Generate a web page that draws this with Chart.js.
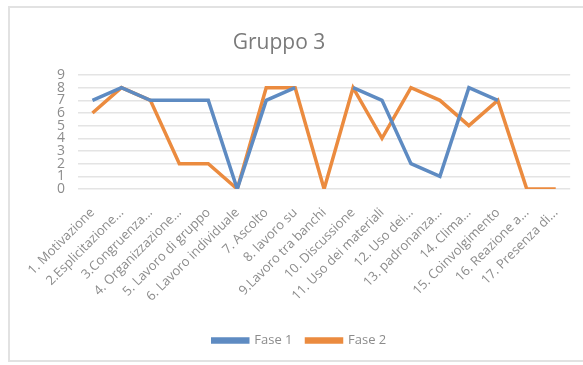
<!DOCTYPE html>
<html>
<head>
<meta charset="utf-8">
<script src="https://cdn.jsdelivr.net/npm/chart.js@4.4.1/dist/chart.umd.min.js"></script>
<style>
  html, body { margin: 0; padding: 0; background: #fff; overflow: hidden; }
  body { width: 583px; height: 365px; position: relative; }
  .frame {
    position: absolute; left: 8px; top: 6px; width: 575px; height: 356px;
    border: 2px solid #e2e2e2; border-right: none; box-sizing: border-box;
  }
  .wrap { position: absolute; left: 0; top: 0; width: 583px; height: 365px; }
</style>
</head>
<body>
<div class="frame"></div>
<div class="wrap"><canvas id="chart"></canvas></div>
<script>
// Categorie osservate
const categories = [
  "1. Motivazione",
  "2.Esplicitazione...",
  "3.Congruenza...",
  "4. Organizzazione...",
  "5. Lavoro di gruppo",
  "6. Lavoro individuale",
  "7. Ascolto",
  "8. lavoro su",
  "9.Lavoro tra banchi",
  "10. Discussione",
  "11. Uso dei materiali",
  "12. Uso dei...",
  "13. padronanza...",
  "14. Clima...",
  "15. Coinvolgimento",
  "16. Reazione a...",
  "17. Presenza di...",
];

// Punteggi per fase (null = nessun dato)
const fase1 = [7, 8, 7, 7, 7, 0, 7, 8, null, 8, 7, 2, 1, 8, 7, null, null];
const fase2 = [6, 8, 7, 2, 2, 0, 8, 8, 0, 8, 4, 8, 7, 5, 7, 0, 0];

const yTicks = [0, 1, 2, 3, 4, 5, 6, 7, 8, 9];

const FONT = "'Open Sans', 'Noto Sans', sans-serif";
const GREY = "#8c8c8c";

// titolo disegnato a mano per poterlo spostare un po' a sinistra
const titlePlugin = {
  id: "titolo",
  afterDraw(chart) {
    const c = chart.ctx;
    c.save();
    c.font = "21px " + FONT;
    c.fillStyle = "#7a7a7a";
    c.textAlign = "center";
    c.textBaseline = "middle";
    c.fillText("Gruppo 3", 279, 43);
    c.restore();
  },
};

// sposta la legenda leggermente a destra
const legendShift = {
  id: "legendShift",
  afterLayout(chart) {
    chart.legend.left += 12;
    chart.legend.right += 12;
  },
};

const ctx = document.getElementById("chart").getContext("2d");
const chart = new Chart(ctx, {
  type: "line",
  data: {
    labels: categories,
    datasets: [
      {
        label: "Fase 1",
        data: fase1,
        borderColor: "#5e8bc2",
        backgroundColor: "#5e8bc2",
        borderWidth: 3.5,
        pointRadius: 0,
        tension: 0,
        spanGaps: false,
      },
      {
        label: "Fase 2",
        data: fase2,
        borderColor: "#eb8b3f",
        backgroundColor: "#eb8b3f",
        borderWidth: 3.5,
        pointRadius: 0,
        tension: 0,
      },
    ],
  },
  options: {
    responsive: true,
    maintainAspectRatio: false,
    animation: false,
    layout: { padding: { top: 75, right: 8, left: 0, bottom: 8 } },
    plugins: {
      title: { display: false },
      tooltip: { enabled: false },
      legend: {
        position: "bottom",
        labels: {
          boxWidth: 35,
          boxHeight: 3,
          color: GREY,
          font: { family: FONT, size: 13 },
          padding: 14,
        },
      },
    },
    scales: {
      x: {
        offset: true,
        grid: { display: false, drawTicks: false },
        border: { display: false },
        ticks: {
          autoSkip: false,
          minRotation: 45,
          maxRotation: 45,
          padding: 16,
          color: GREY,
          font: { family: FONT, size: 13 },
        },
        afterFit(scale) {
          scale.height = 131;
        },
      },
      y: {
        min: 0,
        max: 9,
        afterBuildTicks(scale) {
          scale.ticks = yTicks.map((v) => ({ value: v }));
        },
        grid: { color: "#e4e4e4", lineWidth: 1.5, drawTicks: false },
        border: { display: false },
        ticks: {
          autoSkip: false,
          padding: 13,
          color: GREY,
          font: { family: FONT, size: 14 },
        },
        afterFit(scale) {
          scale.width = 78;
        },
      },
    },
  },
  plugins: [titlePlugin, legendShift],
});
</script>
</body>
</html>
